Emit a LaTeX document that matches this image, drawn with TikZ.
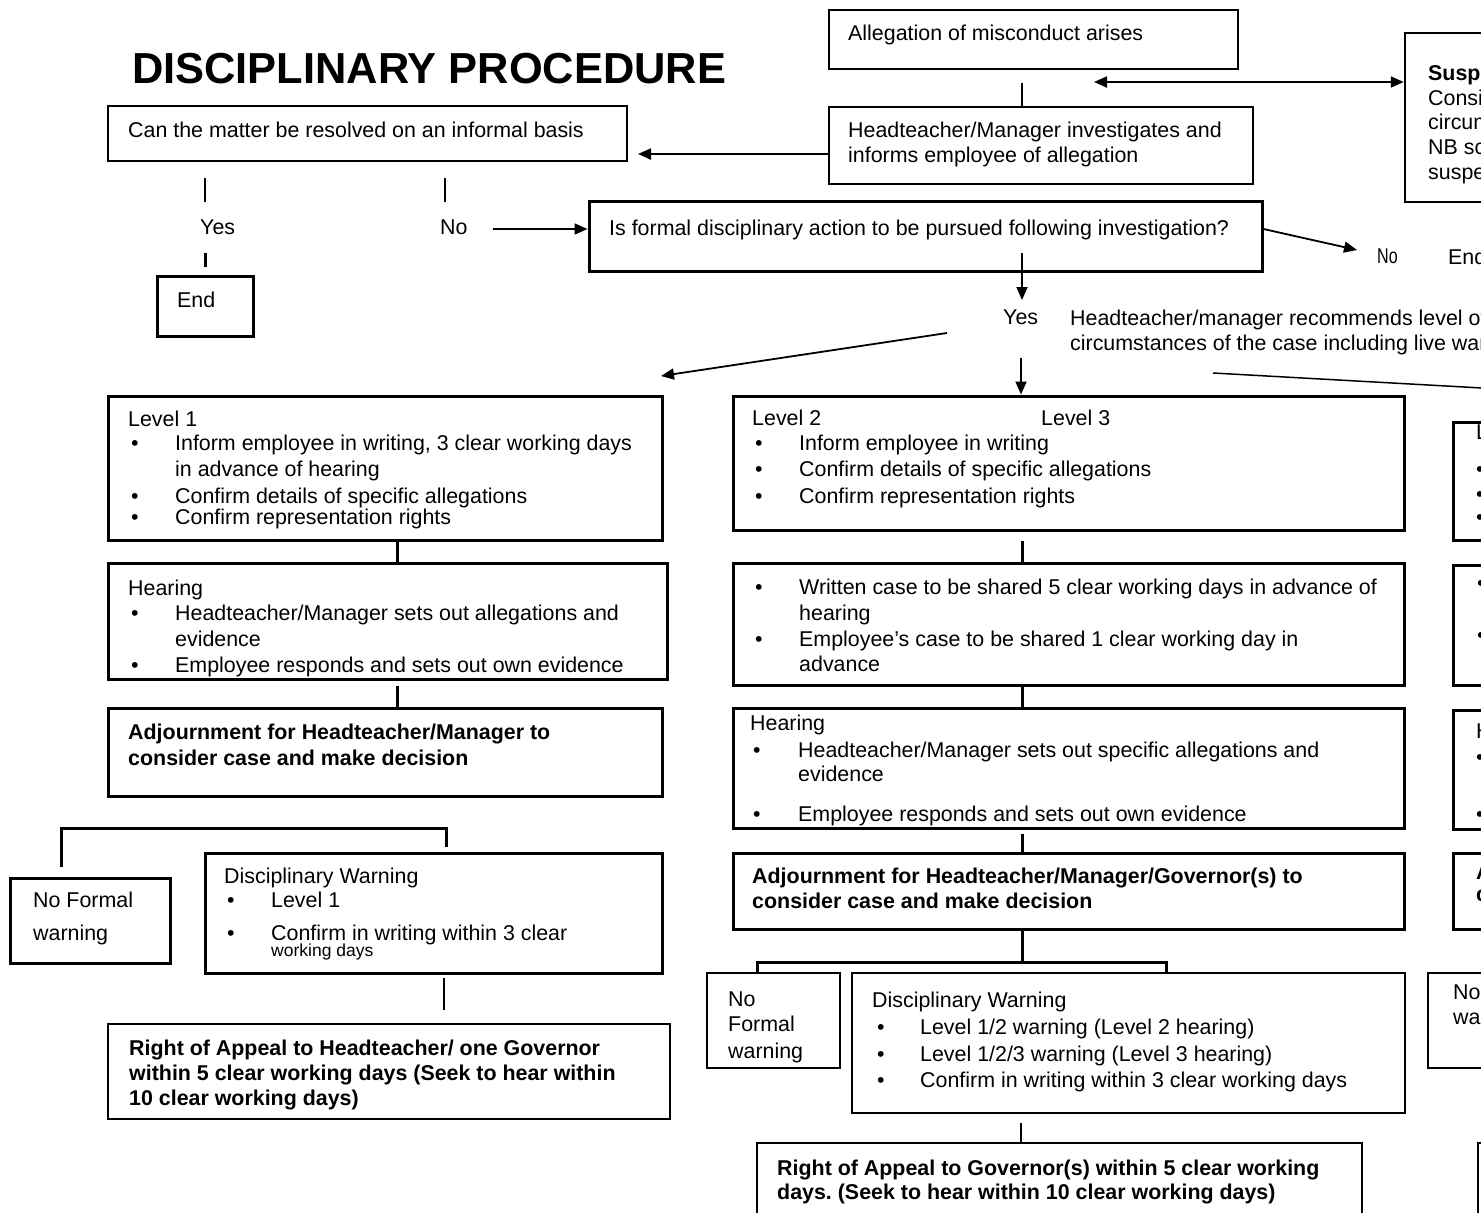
\documentclass[tikz,border=0pt]{standalone}
\usepackage{fontspec}
\setmainfont{Liberation Sans}
\usetikzlibrary{arrows.meta,fit,calc}
\frenchspacing
\newcommand{\mybul}{\makebox[47pt][l]{\hspace{3pt}\textbullet}}
\newcommand{\myind}{\hspace*{47pt}}
\tikzset{
  box/.style={draw, inner sep=0pt, line width=#1},
  box/.default=3pt,
  txt/.style={inner sep=0pt, anchor=north west, align=left, font=\fontsize{21.4pt}{24.5pt}\selectfont},
  btxt/.style={txt, font=\fontsize{21.4pt}{24.5pt}\selectfont\bfseries},
  ttl/.style={inner sep=0pt, anchor=base west, font=\fontsize{43.4pt}{50pt}\selectfont\bfseries},
  arr/.style={line width=1.8pt, -{Triangle[length=13pt,width=11pt]}},
  dbl/.style={line width=1.8pt, {Triangle[length=13pt,width=11pt]}-{Triangle[length=13pt,width=11pt]}},
  conn/.style={line width=#1},
  conn/.default=2pt
}
\begin{document}
\begin{tikzpicture}[x=1pt,y=-1pt]
\useasboundingbox (0,0) rectangle (1481,1213);
\clip (0,0) rectangle (1481,1213);

% ---------- boxes ----------
\node[box=1.5pt, fit={(829,10) (1238,69)}] (A) {};
\node[box=1.5pt, fit={(829,107) (1253,184)}] (B) {};
\node[box=2.5pt, fit={(1405,33) (1500,202)}] (S) {};
\node[box=2pt, fit={(108,106) (627,161)}] (Can) {};
\node[box, fit={(157,276) (253,336)}] (End) {};
\node[box, fit={(589,201) (1262,271)}] (IsF) {};
\node[box, fit={(108,396) (662,540)}] (L1) {};
\node[box, fit={(108,563) (667,679)}] (H1) {};
\node[box, fit={(108,708) (662,796)}] (Adj1) {};
\node[box, fit={(10,878) (170,963)}] (NF1) {};
\node[box, fit={(205,853) (662,973)}] (DW1) {};
\node[box=1.5pt, fit={(108,1024) (670,1119)}] (App1) {};
\node[box, fit={(733,396) (1404,530)}] (L2) {};
\node[box, fit={(733,563) (1404,685)}] (W2) {};
\node[box, fit={(733,708) (1404,828)}] (H2) {};
\node[box, fit={(733,853) (1404,929)}] (Adj2) {};
\node[box=2pt, fit={(707,973) (840,1068)}] (NF2) {};
\node[box=2pt, fit={(852,973) (1405,1113)}] (DW2) {};
\node[box=1.5pt, fit={(757,1143) (1362,1230)}] (App2) {};
\node[box, fit={(1453,422) (1500,540)}] (R1) {};
\node[box, fit={(1453,565) (1500,685)}] (R2) {};
\node[box, fit={(1453,710) (1500,829)}] (R3) {};
\node[box, fit={(1453,853) (1500,929)}] (R4) {};
\node[box=2pt, fit={(1428,973) (1500,1068)}] (R5) {};
\node[box=2.5pt, fit={(1478,1143) (1500,1230)}] (R6) {};

% ---------- texts ----------
\node[ttl] (title) at (132,83) {DISCIPLINARY PROCEDURE};
\node[txt] (tA) at (848,25) {Allegation of misconduct arises};
\node[txt] (tB) at (848,122) {Headteacher/Manager investigates and\\informs employee of allegation};
\node[txt] (tS) at (1428,65) {\textbf{Suspe}\\[0.5pt]Consi\\[-0.5pt]circum\\[0.5pt]NB sc\\[0.5pt]suspe};
\node[txt] (tCan) at (128,122) {Can the matter be resolved on an informal basis};
\node[txt] (yesL) at (200,220) {Yes};
\node[txt] (noL) at (440,220) {No};
\node[txt] (tEnd) at (177,292) {End};
\node[txt] (tIsF) at (609,220) {Is formal disciplinary action to be pursued following investigation?};
\node[txt] (noR) at (1377,249) {\scalebox{0.75}[1]{No}};
\node[txt] (endR) at (1448,249) {End};
\node[txt] (yesM) at (1003,310) {Yes};
\node[txt] (recM) at (1070,310) {Headteacher/manager recommends level of\\circumstances of the case including live war};

\node[txt] (tL1) at (128,411) {Level 1\\[-0.5pt]
\mybul Inform employee in writing, 3 clear working days\\[1.5pt]
\myind in advance of hearing\\[2.5pt]
\mybul Confirm details of specific allegations\\[-3.5pt]
\mybul Confirm representation rights};
\node[txt] (tH1) at (128,580) {Hearing\\[0.5pt]
\mybul Headteacher/Manager sets out allegations and\\[1.5pt]
\myind evidence\\[1.5pt]
\mybul Employee responds and sets out own evidence};
\node[btxt] (tAdj1) at (128,724) {Adjournment for Headteacher/Manager to\\[1.5pt]consider case and make decision};
\node[txt] (tNF1) at (33,892) {No Formal\\[8.5pt]warning};
\node[txt] (tDW1) at (224,868) {Disciplinary Warning\\[-0.5pt]
\mybul Level 1\\[8.5pt]
\mybul Confirm in writing within 3 clear};
\node[txt, font=\fontsize{17.5pt}{20pt}\selectfont] (tDW1b) at (271,944) {working days};
\node[btxt] (tApp1) at (129,1040) {Right of Appeal to Headteacher/ one Governor\\[0.5pt]
within 5 clear working days (Seek to hear within\\[0.5pt]
10 clear working days)};

\node[txt] (tL2) at (752,410) {\makebox[289pt][l]{Level 2}Level 3\\[0.5pt]
\mybul Inform employee in writing\\[1.5pt]
\mybul Confirm details of specific allegations\\[2.5pt]
\mybul Confirm representation rights};
\node[txt] (tW2) at (752,579) {\mybul Written case to be shared 5 clear working days in advance of\\[1.5pt]
\myind hearing\\[1.5pt]
\mybul Employee’s case to be shared 1 clear working day in\\[0.5pt]
\myind advance};
\node[txt] (tH2) at (750,715) {Hearing\\[2.5pt]
\makebox[48pt][l]{\hspace{3pt}\textbullet}Headteacher/Manager sets out specific allegations and\\[-0.5pt]
\hspace*{48pt}evidence\\[15.5pt]
\makebox[48pt][l]{\hspace{3pt}\textbullet}Employee responds and sets out own evidence};
\node[btxt] (tAdj2) at (752,868) {Adjournment for Headteacher/Manager/Governor(s) to\\[0.5pt]consider case and make decision};
\node[txt] (tNF2) at (728,992) {No\\[0.5pt]Formal\\[2.5pt]warning};
\node[txt] (tDW2) at (872,992) {Disciplinary Warning\\[2.5pt]
\makebox[48pt][l]{\hspace{5pt}\textbullet}Level 1/2 warning (Level 2 hearing)\\[2.5pt]
\makebox[48pt][l]{\hspace{5pt}\textbullet}Level 1/2/3 warning (Level 3 hearing)\\[1.5pt]
\makebox[48pt][l]{\hspace{5pt}\textbullet}Confirm in writing within 3 clear working days};
\node[btxt] (tApp2) at (777,1160) {Right of Appeal to Governor(s) within 5 clear working\\[-0.5pt]
days. (Seek to hear within 10 clear working days)};

\node[txt] (tR1) at (1476,425) {L\\[12.5pt]\textbullet\\[0.5pt]\textbullet\\[-1.5pt]\textbullet};
\node[txt] (tR2) at (1477,580) {\textbullet\\[27.5pt]\textbullet};
\node[txt] (tR3) at (1476,724) {H\\[1.5pt]\textbullet\\[32.5pt]\textbullet};
\node[btxt] (tR4) at (1476,865) {A\\[-2.5pt]c};
\node[txt] (tR5) at (1453,985) {No\\[0.5pt]war};

% ---------- connectors ----------
\coordinate (abTop) at (1022,83);
\draw[conn=1.5pt] (abTop) -- (B.north -| abTop);
\coordinate (dblL) at (1094,82);
\draw[dbl] (dblL) -- (S.west |- dblL);
\coordinate (bcY) at (0,154);
\draw[arr] (B.west |- bcY) -- ($(Can.east |- bcY)+(10,0)$);

\coordinate (tk1a) at (205,178); \coordinate (tk1b) at (205,202);
\coordinate (tk2a) at (445,178); \coordinate (tk2b) at (445,202);
\draw[conn=2pt] (tk1a) -- (tk1b);
\draw[conn=2pt] (tk2a) -- (tk2b);
\coordinate (tk3a) at (205,253);
\draw[conn=3pt] (tk3a) -- ($(End.north -| tk3a)+(0,-8)$);
\coordinate (noArr) at (493,229);
\draw[arr] (noArr) -- (IsF.west |- noArr);
\coordinate (dA) at (1022,253); \coordinate (dB) at (1022,300);
\draw[arr] (dA) -- (dB);
\coordinate (noTip) at (1357,250);
\draw[arr] (IsF.east |- 0,229) -- (noTip);
\coordinate (slA) at (947,333); \coordinate (slB) at (661,376);
\draw[arr] (slA) -- (slB);
\coordinate (ydA) at (1021,358);
\draw[arr] (ydA) -- (L2.north -| ydA);
\coordinate (rlA) at (1213,373); \coordinate (rlB) at (1500,389);
\draw[conn=1.5pt] (rlA) -- (rlB);

% left column
\coordinate (lx) at (397,0);
\draw[conn=3pt] (L1.south -| lx) -- (H1.north -| lx);
\draw[conn=3pt] ($(H1.south -| lx)+(0,5)$) -- (Adj1.north -| lx);
\coordinate (bk1) at (61,867); \coordinate (bk2) at (61,828);
\coordinate (bk3) at (446,828); \coordinate (bk4) at (446,847);
\draw[conn=3pt] (bk1) -- (bk2) -- (bk3) -- (bk4);
\coordinate (ax) at (444,0);
\draw[conn=1.5pt] ($(DW1.south -| ax)+(0,3)$) -- ($(App1.north -| ax)+(0,-13)$);

% middle column
\coordinate (mx) at (1022,0);
\draw[conn=3pt] ($(L2.south -| mx)+(0,9)$) -- (W2.north -| mx);
\draw[conn=3pt] (W2.south -| mx) -- (H2.north -| mx);
\draw[conn=3pt] ($(H2.south -| mx)+(0,4)$) -- (Adj2.north -| mx);
\coordinate (bmL) at (757,962); \coordinate (bmR) at (1166,962);
\draw[conn=3pt] (Adj2.south -| mx) -- (mx |- bmL);
\draw[conn=3pt] (NF2.north -| bmL) -- (bmL) -- (bmR) -- (DW2.north -| bmR);
\coordinate (m2x) at (1021,0);
\draw[conn=1.5pt] ($(DW2.south -| m2x)+(0,9)$) -- (App2.north -| m2x);
\end{tikzpicture}
\end{document}
